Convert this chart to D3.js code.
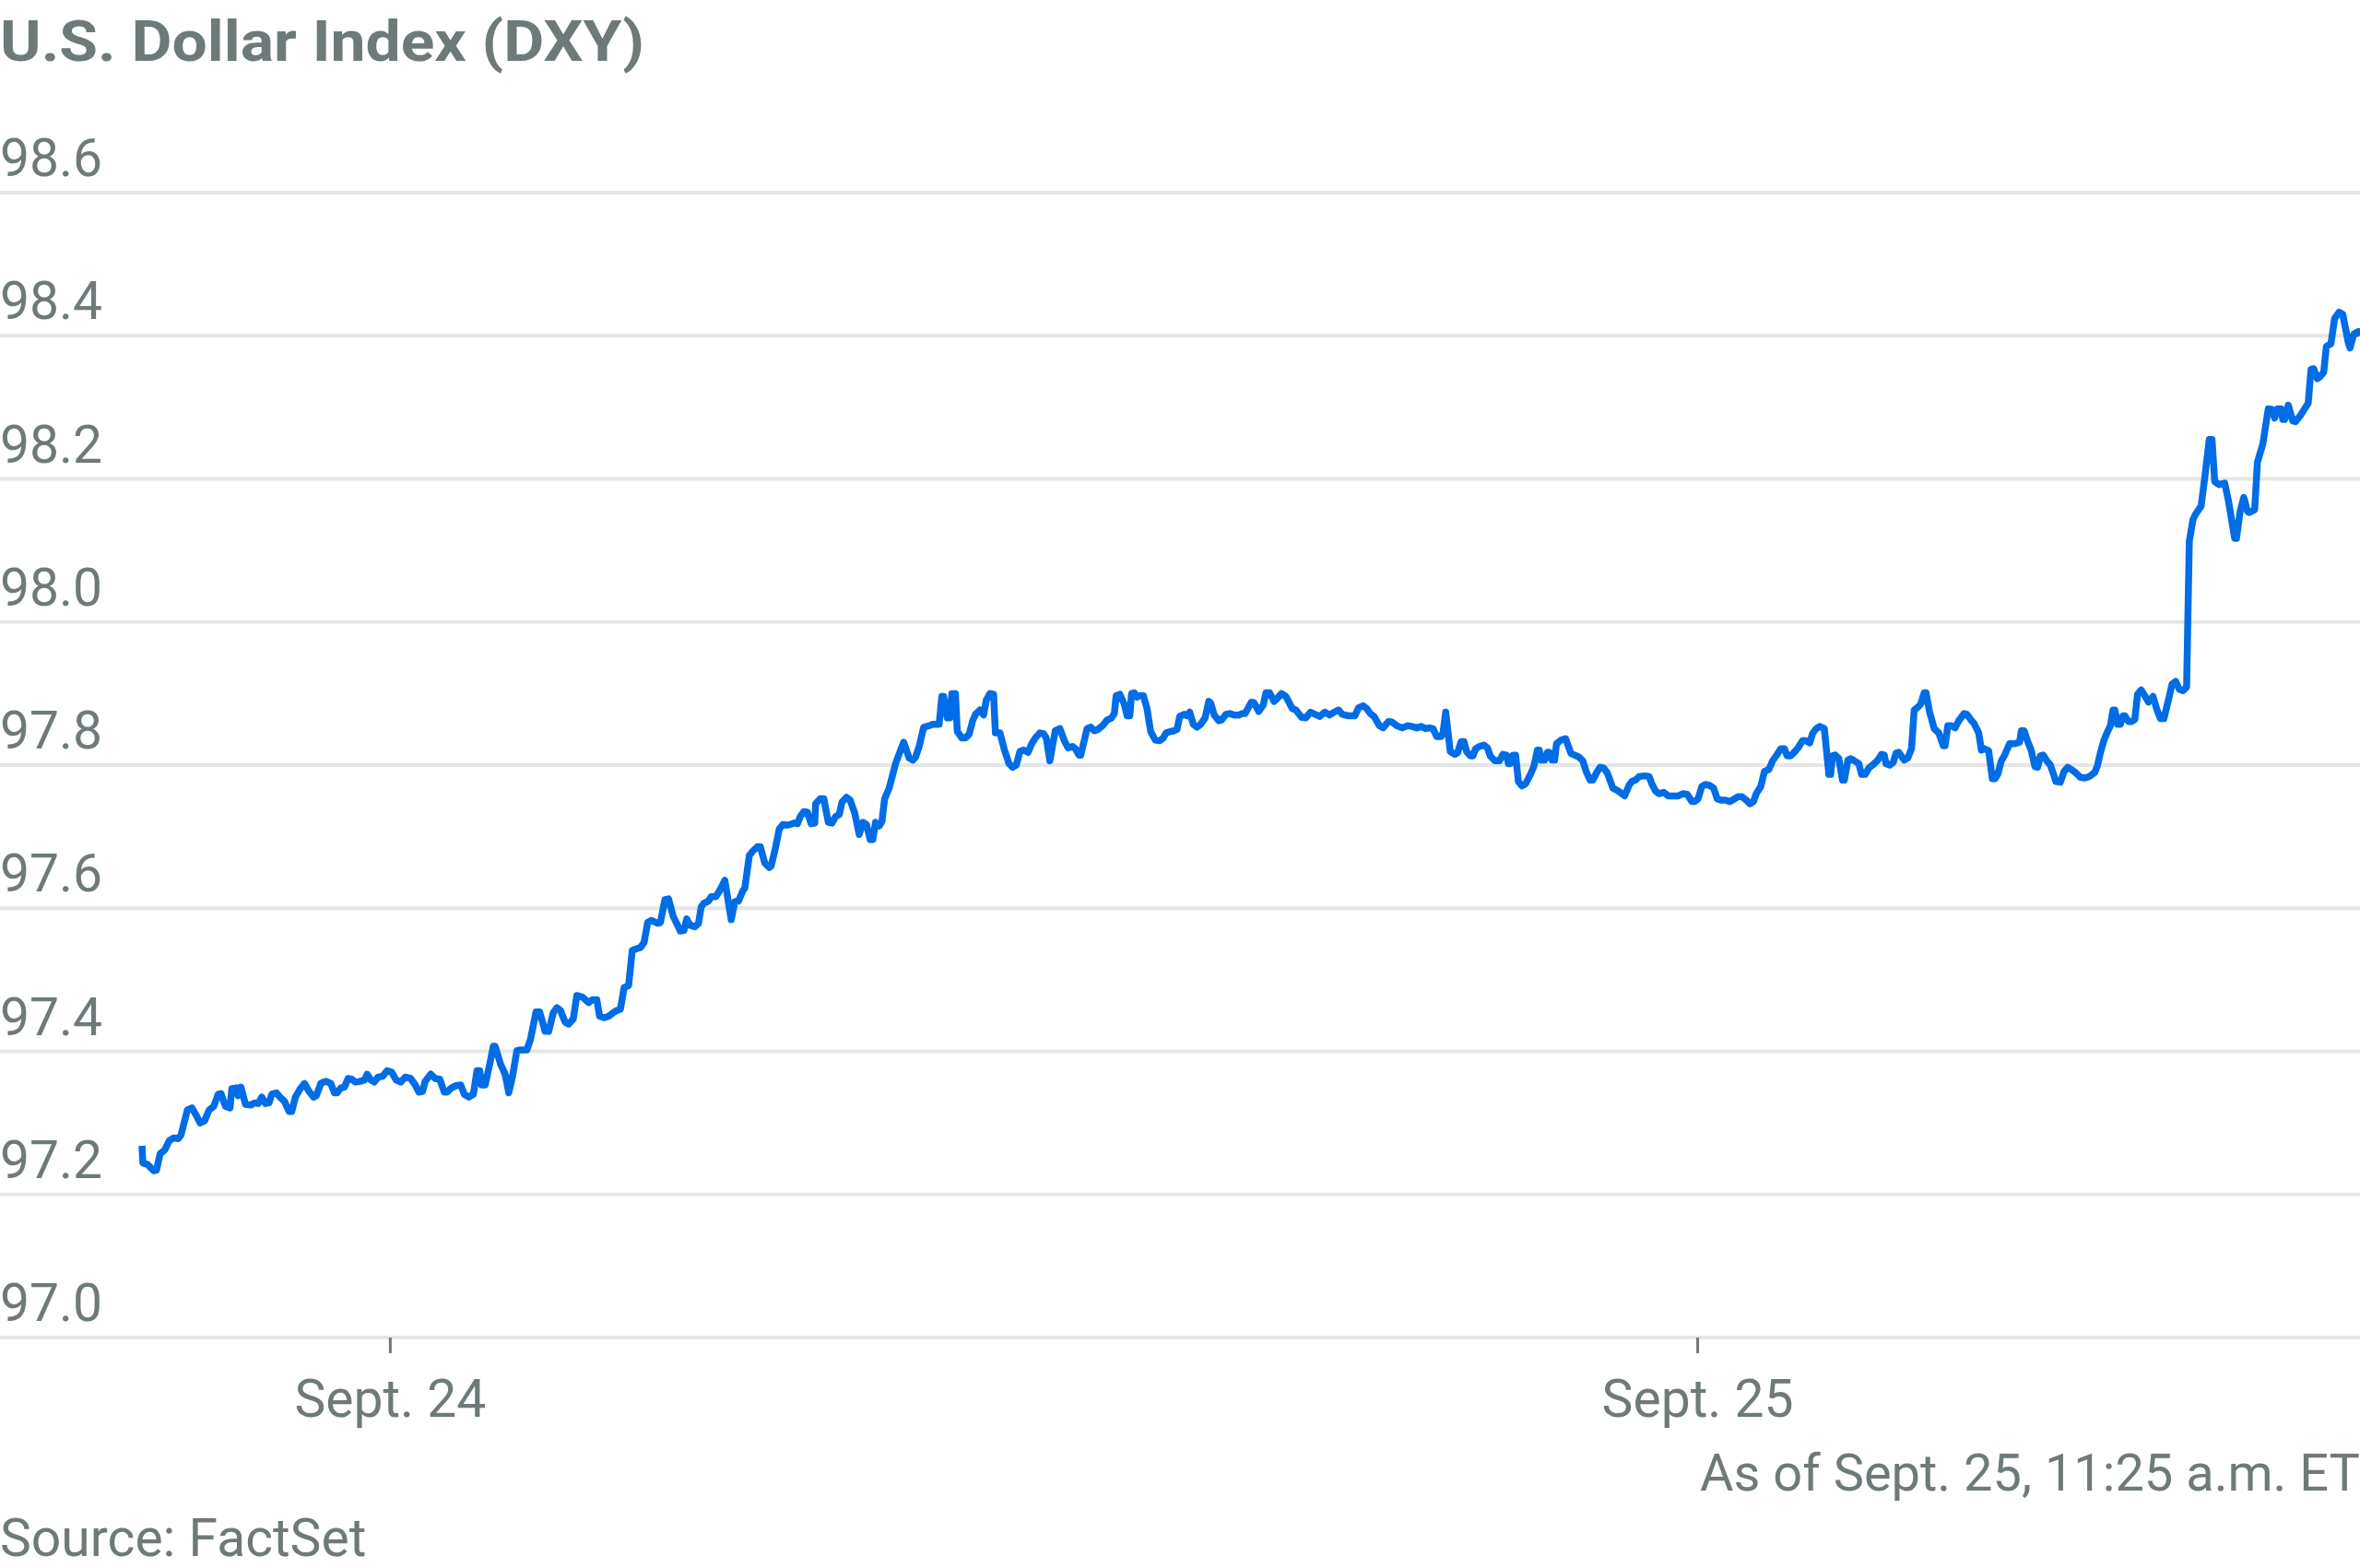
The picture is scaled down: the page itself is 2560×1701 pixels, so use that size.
<!DOCTYPE html>
<html>
<head>
<meta charset="utf-8">
<script src="https://cdn.jsdelivr.net/npm/d3@7"></script>
<style>
  body { margin: 0; background: #fff; }
  text { font-family: Roboto, "Noto Sans", sans-serif; fill: #6e7a7a; }
</style>
</head>
<body>
<div id="vis"></div>
<script>
const width = 2560;
const height = 1701;

// DXY intraday, minutes after the first print (Sept. 23, 7:27 p.m.)
const seriesStart = new Date(2025, 8, 23, 19, 27);
const seriesEndMinute = 2443;

const minutes = [
  0, 1, 6, 13, 16, 20, 25, 30, 35, 40, 43, 50, 55, 60, 64, 69, 74, 79, 84, 87,
  92, 97, 99, 104, 106, 109, 114, 120, 124, 128, 132, 136, 140, 143, 148, 152, 157, 162, 165, 169,
  174, 179, 184, 189, 192, 197, 200, 203, 208, 212, 215, 219, 223, 227, 231, 235, 240, 245, 248, 252,
  256, 260, 265, 270, 275, 280, 285, 290, 296, 301, 305, 309, 312, 318, 323, 328, 333, 336, 341, 346,
  351, 355, 360, 365, 369, 372, 374, 378, 383, 387, 389, 395, 400,
  404, 408, 413, 417, 424, 428, 434, 438, 444, 448, 453, 457, 461, 466, 470, 475, 479, 485, 492, 496,
  501, 504, 509, 514, 519, 523, 527, 531, 536, 540, 544, 549, 553, 557, 561, 568, 571, 576, 580, 585,
  590, 593, 597, 600, 604, 609, 613, 616, 619, 624, 627, 632, 636, 642, 649, 653, 657, 662, 664, 669,
  673, 678, 681, 686, 691, 693, 697, 702, 706, 710, 714, 718, 722, 725, 729, 733, 737, 741, 742, 747,
  751, 756, 760, 764, 768, 771, 776, 780, 785, 790, 794, 798, 802, 805, 808,
  812, 815, 818, 823, 827, 830, 835, 839, 845, 849, 852, 856, 861, 867, 871, 878, 881, 883, 887, 890,
  892, 896, 898, 903, 907, 911, 915, 918, 923, 927, 930, 934, 938, 940, 945, 950, 955, 959, 963, 967,
  971, 976, 980, 984, 989, 993, 996, 1000, 1003, 1006, 1011, 1016, 1020, 1025, 1028, 1032, 1034, 1041, 1045, 1049,
  1053, 1058, 1063, 1068, 1071, 1073, 1077, 1082, 1085, 1088, 1090, 1093, 1096, 1099, 1103, 1107, 1111, 1116, 1121, 1125,
  1128, 1133, 1137, 1140, 1143, 1148, 1151, 1154, 1158, 1162, 1166, 1171, 1175, 1177, 1181, 1186, 1189, 1194, 1198, 1203,
  1208, 1212,
  1215, 1222, 1225, 1230, 1235, 1238, 1242, 1247, 1251, 1255, 1260, 1267, 1271, 1277, 1282, 1287, 1292, 1297, 1303, 1308,
  1313, 1318, 1322, 1328, 1336, 1340, 1345, 1349, 1353, 1357, 1363, 1367, 1373, 1377, 1382, 1388, 1394, 1399, 1404, 1409,
  1414, 1418, 1422, 1426, 1431, 1433, 1436, 1441, 1446, 1449, 1453, 1456, 1459, 1463, 1466, 1469, 1473, 1478, 1482, 1485,
  1490, 1495, 1499, 1503, 1505, 1507, 1510, 1513, 1516, 1520, 1524, 1529, 1533, 1537, 1539, 1541, 1545, 1548, 1550, 1553,
  1556, 1558, 1563, 1568, 1574, 1578, 1583, 1587, 1591, 1595, 1598, 1602, 1606, 1610, 1614, 1620,
  1626, 1633, 1638, 1641, 1645, 1649, 1655, 1660, 1663, 1667, 1671, 1676, 1681, 1687, 1692, 1697, 1702, 1707, 1710, 1714,
  1718, 1722, 1726, 1731, 1735, 1739, 1744, 1749, 1753, 1758, 1762, 1767, 1771, 1775, 1778, 1783, 1787, 1792, 1796, 1800,
  1805, 1809, 1812, 1816, 1820, 1824, 1829, 1833, 1837, 1840, 1844, 1848, 1853, 1858, 1860, 1862, 1865, 1869, 1873, 1875,
  1879, 1882, 1886, 1891, 1894, 1898, 1902, 1907, 1912, 1916, 1919, 1921, 1925, 1929, 1932, 1935, 1941, 1945, 1949, 1952,
  1956, 1959, 1963, 1965, 1969, 1974, 1979, 1984, 1986, 1989, 1993, 1997, 2001, 2007, 2010, 2014, 2018, 2023, 2026,
  2029, 2034, 2038, 2041, 2044, 2048, 2052, 2057, 2063, 2068, 2070, 2073, 2077, 2081, 2085, 2088, 2091, 2094, 2098, 2102,
  2106, 2108, 2113, 2117, 2121, 2125, 2130, 2135, 2140, 2145, 2151, 2154, 2157, 2161, 2165, 2168, 2171, 2173, 2176, 2179,
  2182, 2184, 2188, 2192, 2195, 2198, 2202, 2206, 2210, 2215, 2219, 2223, 2227, 2232, 2236, 2240, 2244, 2248, 2252,
  2255, 2259, 2262, 2268, 2272, 2277, 2280, 2283, 2288, 2294, 2298, 2305, 2307, 2311, 2315, 2319, 2321, 2327, 2330, 2336,
  2342, 2346, 2349, 2352, 2356, 2358, 2360, 2364, 2369, 2372, 2377, 2382, 2386, 2389, 2392, 2396, 2399, 2403, 2406, 2411,
  2415, 2420, 2424, 2430, 2432, 2436, 2441, 2443
];

const values = [
  97.268, 97.244, 97.242, 97.233, 97.234, 97.257, 97.262, 97.275, 97.279, 97.278, 97.283, 97.318, 97.321, 97.310, 97.300, 97.303, 97.318, 97.323, 97.340, 97.341,
  97.323, 97.321, 97.348, 97.349, 97.338, 97.350, 97.326, 97.325, 97.328, 97.327, 97.336, 97.327, 97.328, 97.340, 97.342, 97.336, 97.330, 97.316, 97.316, 97.336,
  97.347, 97.355, 97.344, 97.336, 97.338, 97.355, 97.357, 97.358, 97.355, 97.342, 97.342, 97.349, 97.350, 97.362, 97.361, 97.357, 97.358, 97.360, 97.368, 97.360,
  97.357, 97.364, 97.365, 97.373, 97.371, 97.360, 97.357, 97.364, 97.362, 97.353, 97.343, 97.344, 97.358, 97.368, 97.362, 97.361, 97.343, 97.343, 97.349, 97.352,
  97.353, 97.340, 97.336, 97.340, 97.373, 97.373, 97.353, 97.353, 97.382, 97.407, 97.407, 97.382, 97.368,
  97.342, 97.364, 97.401, 97.402, 97.402, 97.417, 97.455, 97.455, 97.428, 97.428, 97.454, 97.461, 97.457, 97.441, 97.438, 97.445, 97.478, 97.476, 97.468, 97.472,
  97.472, 97.449, 97.447, 97.449, 97.454, 97.457, 97.459, 97.489, 97.492, 97.541, 97.543, 97.545, 97.552, 97.580, 97.583, 97.579, 97.580, 97.612, 97.613, 97.589,
  97.576, 97.568, 97.569, 97.585, 97.576, 97.574, 97.579, 97.602, 97.607, 97.610, 97.616, 97.616, 97.624, 97.639, 97.584, 97.609, 97.610, 97.625, 97.628, 97.674,
  97.680, 97.686, 97.686, 97.663, 97.657, 97.659, 97.680, 97.711, 97.717, 97.716, 97.717, 97.719, 97.718, 97.728, 97.735, 97.734, 97.718, 97.719, 97.746, 97.753,
  97.753, 97.720, 97.719, 97.728, 97.731, 97.748, 97.755, 97.751, 97.733, 97.703, 97.720, 97.717, 97.696, 97.696, 97.720,
  97.715, 97.721, 97.753, 97.768, 97.787, 97.802, 97.819, 97.832, 97.810, 97.807, 97.811, 97.826, 97.853, 97.855, 97.857, 97.857, 97.896, 97.896, 97.866, 97.866,
  97.900, 97.900, 97.847, 97.838, 97.838, 97.843, 97.862, 97.871, 97.877, 97.870, 97.891, 97.900, 97.899, 97.845, 97.845, 97.821, 97.802, 97.797, 97.800, 97.819,
  97.821, 97.818, 97.830, 97.838, 97.845, 97.844, 97.838, 97.806, 97.828, 97.848, 97.851, 97.834, 97.824, 97.826, 97.823, 97.814, 97.814, 97.851, 97.853, 97.848,
  97.850, 97.855, 97.863, 97.866, 97.872, 97.897, 97.899, 97.885, 97.869, 97.869, 97.900, 97.901, 97.895, 97.897, 97.897, 97.879, 97.847, 97.835, 97.834, 97.838,
  97.845, 97.847, 97.848, 97.850, 97.868, 97.871, 97.869, 97.874, 97.857, 97.853, 97.857, 97.866, 97.889, 97.887, 97.870, 97.862, 97.863, 97.871, 97.872, 97.870,
  97.870, 97.872,
  97.872, 97.888, 97.887, 97.875, 97.884, 97.901, 97.901, 97.889, 97.894, 97.900, 97.896, 97.879, 97.877, 97.867, 97.866, 97.874, 97.871, 97.868, 97.874, 97.870,
  97.874, 97.877, 97.871, 97.869, 97.869, 97.880, 97.883, 97.879, 97.872, 97.868, 97.855, 97.852, 97.861, 97.860, 97.855, 97.852, 97.855, 97.854, 97.852, 97.854,
  97.851, 97.852, 97.851, 97.840, 97.840, 97.845, 97.874, 97.819, 97.815, 97.817, 97.833, 97.833, 97.819, 97.813, 97.813, 97.823, 97.826, 97.828, 97.824, 97.813,
  97.806, 97.806, 97.815, 97.814, 97.802, 97.802, 97.814, 97.814, 97.777, 97.771, 97.774, 97.786, 97.798, 97.821, 97.821, 97.807, 97.807, 97.818, 97.818, 97.807,
  97.807, 97.830, 97.835, 97.837, 97.816, 97.814, 97.811, 97.806, 97.790, 97.779, 97.779, 97.789, 97.797, 97.796, 97.789, 97.768,
  97.764, 97.757, 97.772, 97.777, 97.779, 97.784, 97.785, 97.784, 97.774, 97.764, 97.760, 97.762, 97.757, 97.757, 97.757, 97.760, 97.759, 97.749, 97.749, 97.753,
  97.770, 97.773, 97.772, 97.768, 97.753, 97.751, 97.751, 97.749, 97.752, 97.756, 97.756, 97.751, 97.746, 97.749, 97.760, 97.770, 97.791, 97.794, 97.806, 97.813,
  97.823, 97.823, 97.813, 97.813, 97.818, 97.824, 97.834, 97.834, 97.831, 97.844, 97.851, 97.854, 97.851, 97.787, 97.787, 97.813, 97.814, 97.809, 97.779, 97.779,
  97.807, 97.809, 97.806, 97.802, 97.787, 97.787, 97.796, 97.801, 97.807, 97.815, 97.814, 97.802, 97.800, 97.804, 97.817, 97.818, 97.807, 97.810, 97.823, 97.877,
  97.881, 97.885, 97.901, 97.901, 97.874, 97.851, 97.845, 97.827, 97.827, 97.855, 97.855, 97.852, 97.862, 97.872, 97.871, 97.864, 97.858, 97.845, 97.821,
  97.823, 97.820, 97.781, 97.781, 97.787, 97.806, 97.815, 97.830, 97.830, 97.832, 97.848, 97.848, 97.833, 97.820, 97.798, 97.797, 97.813, 97.814, 97.806, 97.800,
  97.785, 97.777, 97.776, 97.791, 97.797, 97.794, 97.789, 97.783, 97.782, 97.784, 97.790, 97.800, 97.817, 97.835, 97.847, 97.855, 97.877, 97.877, 97.857, 97.857,
  97.869, 97.869, 97.861, 97.861, 97.864, 97.899, 97.905, 97.897, 97.888, 97.896, 97.879, 97.865, 97.865, 97.891, 97.913, 97.917, 97.906, 97.904, 97.909,
  98.113, 98.143, 98.151, 98.162, 98.202, 98.255, 98.255, 98.196, 98.192, 98.194, 98.170, 98.117, 98.117, 98.155, 98.174, 98.155, 98.153, 98.157, 98.223, 98.249,
  98.298, 98.297, 98.285, 98.298, 98.298, 98.283, 98.283, 98.303, 98.281, 98.280, 98.288, 98.298, 98.306, 98.353, 98.354, 98.340, 98.343, 98.349, 98.385, 98.389,
  98.424, 98.433, 98.430, 98.391, 98.383, 98.402, 98.406, 98.400
];

const yTicks = [97.0, 97.2, 97.4, 97.6, 97.8, 98.0, 98.2, 98.4, 98.6];
const xTickDates = [new Date(2025, 8, 24), new Date(2025, 8, 25)];
const xTickLabels = ['Sept. 24', 'Sept. 25'];

const data = minutes.map((m, i) => ({
  date: d3.timeMinute.offset(seriesStart, m),
  value: values[i]
}));

const svg = d3.select('#vis')
  .append('svg')
  .attr('width', width)
  .attr('height', height);

const xScale = d3.scaleTime()
  .domain([seriesStart, d3.timeMinute.offset(seriesStart, seriesEndMinute)])
  .range([154, 2560]);

const yScale = d3.scaleLinear()
  .domain([97.0, 98.6])
  .range([1451, 209]);

// title
svg.append('text')
  .attr('x', 0)
  .attr('y', 66)
  .attr('textLength', 699)
  .attr('lengthAdjust', 'spacingAndGlyphs')
  .style('font-size', '62px')
  .style('font-weight', 700)
  .text('U.S. Dollar Index (DXY)');

// gridlines + y labels
svg.selectAll('.grid')
  .data(yTicks)
  .join('line')
  .attr('class', 'grid')
  .attr('x1', 0)
  .attr('x2', width)
  .attr('y1', d => yScale(d))
  .attr('y2', d => yScale(d))
  .attr('stroke', '#e6e6e6')
  .attr('stroke-width', 4);

svg.selectAll('.y-label')
  .data(yTicks)
  .join('text')
  .attr('class', 'y-label')
  .attr('x', 0)
  .attr('y', d => yScale(d) - 18)
  .style('font-size', '57px')
  .text(d3.format('.1f'));

// x axis
const xAxis = d3.axisBottom(xScale)
  .tickValues(xTickDates)
  .tickSize(17)
  .tickPadding(29)
  .tickFormat((d, i) => xTickLabels[i]);

const xg = svg.append('g')
  .attr('transform', `translate(0,${yScale(97.0)})`)
  .call(xAxis);
xg.select('.domain').remove();
xg.selectAll('line').attr('stroke', '#6e7a7a').attr('stroke-width', 3);
xg.selectAll('text')
  .attr('fill', null)
  .style('font-size', '57px')
  .style('font-family', 'Roboto, "Noto Sans", sans-serif');

// the line
const line = d3.line()
  .x(d => xScale(d.date))
  .y(d => yScale(d.value));

svg.append('path')
  .datum(data)
  .attr('fill', 'none')
  .attr('stroke', '#006ce6')
  .attr('stroke-width', 7.5)
  .attr('stroke-linejoin', 'round')
  .attr('stroke-linecap', 'butt')
  .attr('d', line);

// notes
svg.append('text')
  .attr('x', width)
  .attr('y', 1617)
  .attr('text-anchor', 'end')
  .style('font-size', '56px')
  .text('As of Sept. 25, 11:25 a.m. ET');

svg.append('text')
  .attr('x', 0)
  .attr('y', 1688)
  .style('font-size', '57px')
  .text('Source: FactSet');
</script>
</body>
</html>
